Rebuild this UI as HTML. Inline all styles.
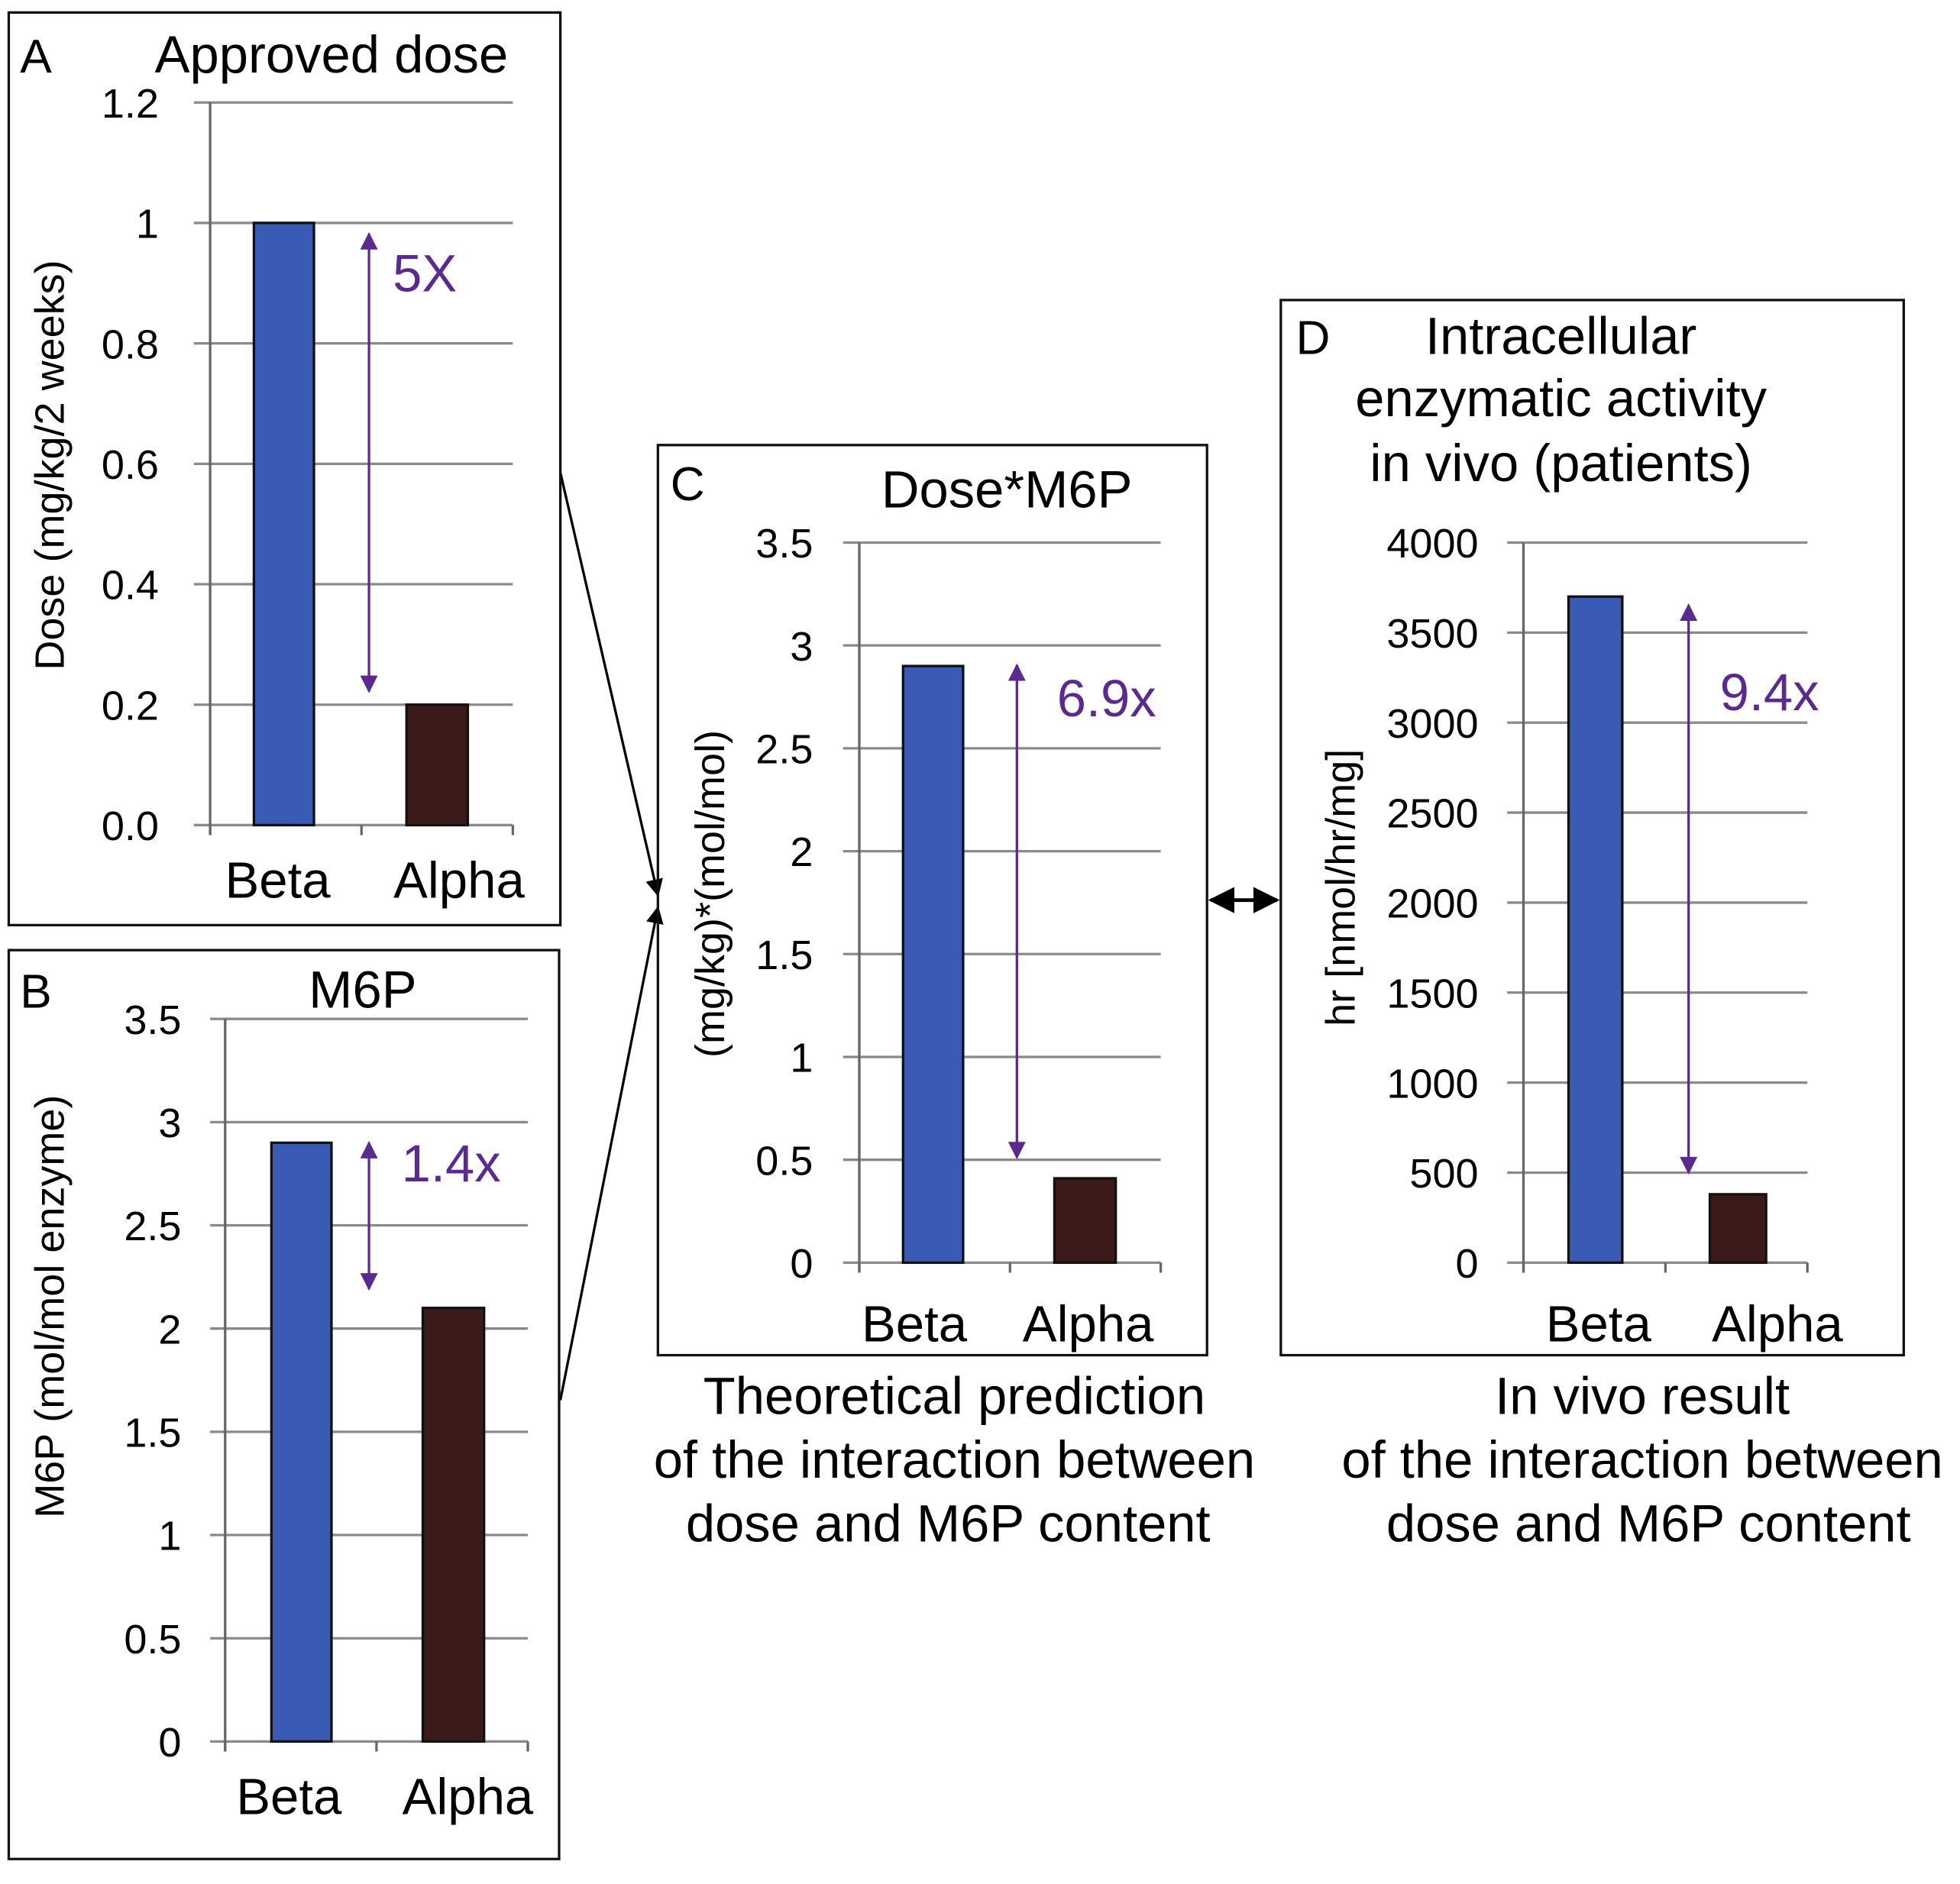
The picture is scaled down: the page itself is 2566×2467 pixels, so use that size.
<!DOCTYPE html>
<html><head><meta charset="utf-8"><style>
html,body{margin:0;padding:0;background:#fff}
svg{display:block;font-family:"Liberation Sans",Arial,sans-serif}
</style></head><body>
<svg id="fig" width="2566" height="2467" viewBox="0 0 1567 1507" preserveAspectRatio="none" xmlns="http://www.w3.org/2000/svg">
<defs>
<marker id="pa" viewBox="0 0 10 10" refX="9" refY="5" markerWidth="10" markerHeight="7" orient="auto-start-reverse"><path d="M0,0L10,5L0,10z" fill="#5b2a91"/></marker>
<marker id="ka" viewBox="0 0 10 10" refX="9" refY="5" markerWidth="7" markerHeight="7" orient="auto-start-reverse"><path d="M0,0L10,5L0,10z" fill="#000"/></marker>
</defs>
<line x1="448" y1="378" x2="526" y2="716" stroke="#000" stroke-width="2" marker-end="url(#ka)"/>
<line x1="448" y1="1120" x2="526" y2="726" stroke="#000" stroke-width="2" marker-end="url(#ka)"/>
<line x1="968" y1="720" x2="1021" y2="720" stroke="#000" stroke-width="3" marker-start="url(#ka)" marker-end="url(#ka)"/>
<g font-size="42" text-anchor="middle">
<text x="763" y="1131">Theoretical prediction</text><text x="763" y="1182">of the interaction between</text><text x="758" y="1233">dose and M6P content</text></g>
<g font-size="42" text-anchor="middle">
<text x="1313" y="1131">In vivo result</text><text x="1313" y="1182">of the interaction between</text><text x="1318" y="1233">dose and M6P content</text></g>
</svg>
<script>
const categories=["Beta","Alpha"];
const valuesA=[1,0.2];
const valuesB=[2.9,2.1];
const valuesC=[2.9,0.41];
const valuesD=[3700,380];
const ticksA=["0.0","0.2","0.4","0.6","0.8","1","1.2"];
const ticksB=["0","0.5","1","1.5","2","2.5","3","3.5"];
const ticksC=["0","0.5","1","1.5","2","2.5","3","3.5"];
const ticksD=["0","500","1000","1500","2000","2500","3000","3500","4000"];
const NS="http://www.w3.org/2000/svg";
const svg=document.getElementById('fig');
function mk(tag,attrs,parent,txt){const e=document.createElementNS(NS,tag);for(const k in attrs)e.setAttribute(k,attrs[k]);if(txt!==undefined)e.textContent=txt;parent.appendChild(e);return e;}
function panel(p){
 const g=mk('g',{},svg);
 
 
 const box=mk('rect',{x:p.box[0],y:p.box[1],width:p.box[2]-p.box[0],height:p.box[3]-p.box[1],fill:'none',stroke:'#111','stroke-width':2},g);
 
 
 const max=parseFloat(p.ticks[p.ticks.length-1]);
 const y=v=>p.y0-(v/max)*(p.y0-p.yTop);
 p.ticks.forEach(t=>{
  const v=parseFloat(t);
  const gl=mk('line',{x1:p.gx[0],x2:p.gx[1],y1:y(v),y2:y(v),stroke:'#8a8a8a','stroke-width':2},g);
  
  
  const tl=mk('text',{x:p.tickX,y:y(v)+12,'font-size':33,'text-anchor':'end'},g,t);
  
  
 });
 const ax=mk('line',{x1:p.ax,x2:p.ax,y1:p.yTop,y2:p.y0+8,stroke:'#666','stroke-width':2},g);
 
 
 const slot=(p.gx[1]-p.ax)/2;
 [p.ax,p.ax+slot,p.gx[1]].forEach(x=>{const tk=mk('line',{x1:x,x2:x,y1:p.y0,y2:p.y0+8,stroke:'#666','stroke-width':2},g);
  
  });
 p.vals.forEach((v,i)=>{
  const bx=p.bars[i];
  const r=mk('rect',{x:bx[0],y:y(v),width:bx[1]-bx[0],height:p.y0-y(v),fill:i==0?'#3a5bb5':'#3c1a1a',stroke:'#111','stroke-width':2},g);
  
  
  const cl=mk('text',{x:p.catX[i],y:p.catY,'font-size':41,'text-anchor':'middle'},g,categories[i]);
  
  
 });
 const ar=mk('line',{x1:p.arrow[0],x2:p.arrow[0],y1:p.arrow[1],y2:p.arrow[2],stroke:'#5b2a91','stroke-width':2,'marker-start':'url(#pa)','marker-end':'url(#pa)'},g);
 
 
 const fl=mk('text',{x:p.fold[0],y:p.fold[1],'font-size':42,fill:'#5b2a91'},g,p.fold[2]);
 
 
 const lt=mk('text',{x:p.letter[0],y:p.letter[1],'font-size':38},g,p.id.toUpperCase());
 
 
 p.title.forEach(t=>{const tt=mk('text',{x:t[0],y:t[1],'font-size':42,'text-anchor':'middle'},g,t[2]);
  
  });
 const yt=mk('text',{x:0,y:0,'font-size':33,'text-anchor':'middle',transform:`translate(${p.yt[0]},${p.yt[1]}) rotate(-90)`},g,p.yt[2]);
 
 
}
panel({id:'a',box:[7,10,448,740],ax:168,y0:660,yTop:82,gx:[155,410],tickX:127,ticks:ticksA,vals:valuesA,bars:[[203,251],[325,374]],catX:[222,367],catY:718,arrow:[295,187,553],fold:[314,233,'5X'],letter:[16,58],title:[[265,58,'Approved dose']],yt:[51,372,'Dose (mg/kg/2 weeks)']});
panel({id:'b',box:[7,760,447,1487],ax:180,y0:1393,yTop:815,gx:[168,422],tickX:145,ticks:ticksB,vals:valuesB,bars:[[217,265],[338,387]],catX:[231,374],catY:1451,arrow:[295,914,1031],fold:[321,945,'1.4x'],letter:[16,806],title:[[290,806,'M6P']],yt:[51,1045,'M6P (mol/mol enzyme)']});
panel({id:'c',box:[526,356,965,1084],ax:687,y0:1010,yTop:434,gx:[674,928],tickX:650,ticks:ticksC,vals:valuesC,bars:[[722,770],[843,892]],catX:[731,870],catY:1073,arrow:[813,532,926],fold:[845,573,'6.9x'],letter:[536,400],title:[[805,406,'Dose*M6P']],yt:[579,715,'(mg/kg)*(mol/mol)']});
panel({id:'d',box:[1024,240,1522,1084],ax:1218,y0:1010,yTop:434,gx:[1205,1445],tickX:1182,ticks:ticksD,vals:valuesD,bars:[[1254,1297],[1367,1412]],catX:[1278,1421],catY:1073,arrow:[1350,484,938],fold:[1375,568,'9.4x'],letter:[1036,283],title:[[1248,283,'Intracellular'],[1248,333,'enzymatic activity'],[1248,385,'in vivo (patients)']],yt:[1083,710,'hr [nmol/hr/mg]']});
</script>
</body></html>
